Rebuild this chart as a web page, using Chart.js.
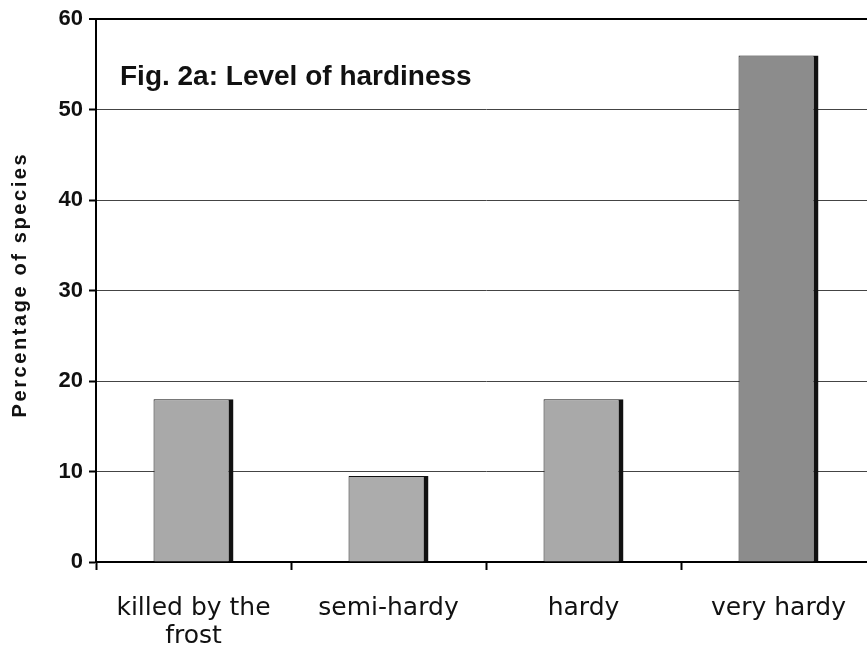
<!DOCTYPE html>
<html>
<head>
<meta charset="utf-8">
<script src="https://cdn.jsdelivr.net/npm/chart.js@4"></script>
<style>
  html, body { margin: 0; padding: 0; background: #fff; overflow: hidden; }
  #wrap { width: 876px; height: 650px; position: relative; }
</style>
</head>
<body>
<div id="wrap"><canvas id="myChart"></canvas></div>
<script>
const ctx = document.getElementById('myChart');

// data
const categories = [['killed by the', 'frost'], 'semi-hardy', 'hardy', 'very hardy'];
const percentages = [18, 9.5, 18, 56];
const yTicks = [0, 10, 20, 30, 40, 50, 60];
const figTitle = 'Fig. 2a: Level of hardiness';
const yTitle = 'Percentage of species';

const barFill = ['#a9a9a9', '#acacac', '#a9a9a9', '#8c8c8c'];

const textPlugin = {
  id: 'textPlugin',
  afterDraw(chart) {
    const c = chart.ctx;
    const area = chart.chartArea;
    c.save();
    c.fillStyle = '#111';
    c.font = 'bold 28px "Liberation Sans", Arial, sans-serif';
    c.textAlign = 'left';
    c.textBaseline = 'alphabetic';
    c.fillText(figTitle, area.left + 24, area.top + 66);

    c.translate(20, (area.top + area.bottom) / 2 - 6);
    c.rotate(-Math.PI / 2);
    c.font = 'bold 20px "Liberation Sans", Arial, sans-serif';
    c.letterSpacing = '2.6px';
    c.textAlign = 'center';
    c.textBaseline = 'middle';
    c.fillText(yTitle, 0, 0);
    c.restore();
  }
};

function draw() {
  new Chart(ctx, {
    type: 'bar',
    data: {
      labels: categories,
      datasets: [{
        data: percentages,
        backgroundColor: barFill,
        borderColor: '#111',
        borderWidth: { left: 1, top: 1, right: 5, bottom: 0 },
        borderSkipped: false,
        barPercentage: 0.41,
        categoryPercentage: 1
      }]
    },
    options: {
      responsive: true,
      maintainAspectRatio: false,
      animation: false,
      layout: { padding: { top: 18, right: 0, bottom: 0, left: 0 } },
      plugins: {
        legend: { display: false },
        tooltip: { enabled: false }
      },
      scales: {
        x: {
          offset: true,
          grid: {
            drawOnChartArea: false,
            drawTicks: true,
            tickLength: 8,
            tickColor: '#000',
            tickWidth: 2
          },
          border: { display: true, color: '#000', width: 2 },
          ticks: {
            color: '#111',
            padding: 24,
            maxRotation: 0,
            autoSkip: false,
            font: { family: '"DejaVu Sans", Verdana, sans-serif', size: 25, lineHeight: 1.12 }
          },
          afterFit(scale) { scale.height = 88; }
        },
        y: {
          min: 0,
          max: 60,
          afterBuildTicks(scale) { scale.ticks = yTicks.map(v => ({ value: v })); },
          grid: {
            color: ctx => ctx.tick && ctx.tick.value === 60 ? '#000' : '#444',
            lineWidth: ctx => ctx.tick && ctx.tick.value === 60 ? 2 : 1,
            tickLength: 7,
            tickColor: '#000',
            tickWidth: 2
          },
          border: { display: true, color: '#000', width: 2 },
          ticks: {
            color: '#111',
            padding: 6,
            font: { family: '"Liberation Sans", Arial, sans-serif', size: 22, weight: 'bold' }
          },
          afterFit(scale) { scale.width = 96; }
        }
      }
    },
    plugins: [textPlugin]
  });
}

draw();
</script>
</body>
</html>
